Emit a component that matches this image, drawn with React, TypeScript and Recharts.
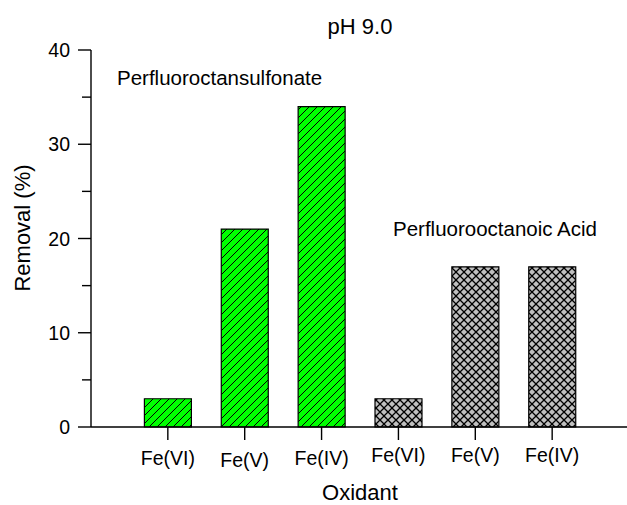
import { Bar, BarChart, Cell, XAxis, YAxis } from 'recharts'

// one slot per bar, left group PFOS, right group PFOA
const oxidants = ['Fe(VI)', 'Fe(V)', 'Fe(IV)', 'Fe(VI)', 'Fe(V)', 'Fe(IV)']
const compounds = ['PFOS', 'PFOS', 'PFOS', 'PFOA', 'PFOA', 'PFOA']
const removal = [3, 21, 34, 3, 17, 17]
const yTicks = [0, 5, 10, 15, 20, 25, 30, 35, 40]
const yLabels = [0, 10, 20, 30, 40]

const data = oxidants.map((oxidant, i) => ({
  key: i,
  oxidant,
  compound: compounds[i],
  removal: removal[i],
}))

const FONT = "'Liberation Sans', Arial, Helvetica, sans-serif"
const AXIS = { stroke: '#000', strokeWidth: 1.4 }
// small vertical stagger of the category labels as in the original
const labelShift = [0, 2, 0, -3, -3, -3]

function LeftTick({ x, y, payload }: any) {
  const major = yLabels.includes(payload.value)
  return (
    <g>
      <line x1={x - (major ? 13 : 9)} x2={x} y1={y} y2={y} stroke="#000" strokeWidth={1.4} />
      {major && (
        <text x={x - 21} y={y} dy="0.36em" textAnchor="end" fontSize={19.5} fontFamily={FONT} fill="#000">
          {payload.value}
        </text>
      )}
    </g>
  )
}

function RightTick({ x, y, payload }: any) {
  const major = yLabels.includes(payload.value)
  return <line x1={x - (major ? 13 : 9)} x2={x} y1={y} y2={y} stroke="#000" strokeWidth={1.4} />
}

function BottomTick({ x, y, payload, index }: any) {
  return (
    <g>
      <line x1={x} x2={x} y1={y} y2={y + 13} stroke="#000" strokeWidth={1.4} />
      <text x={x} y={y + 38 + (labelShift[index] ?? 0)} textAnchor="middle" fontSize={19.5} fontFamily={FONT} fill="#000">
        {oxidants[payload.value]}
      </text>
    </g>
  )
}

function TopTick({ x, y }: any) {
  return <line x1={x} x2={x} y1={y} y2={y + 13} stroke="#000" strokeWidth={1.4} />
}

export default function App() {
  return (
    <div style={{ position: 'absolute', left: 0, top: 0, width: 627, height: 505, overflow: 'hidden', background: '#fff' }}>
      <BarChart width={640} height={505} data={data} margin={{ top: 50, right: 0, bottom: 0, left: 0 }}>
        <defs>
          <pattern id="hatch" patternUnits="userSpaceOnUse" width={8} height={8}>
            <rect width={8} height={8} fill="#00ff00" />
            <path d="M-2,2 L2,-2 M0,8 L8,0 M6,10 L10,6" stroke="#000" strokeWidth={1} />
          </pattern>
          <pattern id="cross" patternUnits="userSpaceOnUse" width={8} height={8}>
            <rect width={8} height={8} fill="#c0c0c0" />
            <path d="M0,0 L8,8 M8,0 L0,8" stroke="#000" strokeWidth={1.3} />
          </pattern>
        </defs>
        <XAxis
          dataKey="key"
          type="category"
          height={78}
          padding={{ left: 38.4, right: 38.4 }}
          axisLine={AXIS}
          tickLine={false}
          tickSize={0}
          tickMargin={0}
          tick={<BottomTick />}
          interval={0}
        />
        <XAxis
          xAxisId="top"
          orientation="top"
          dataKey="key"
          type="category"
          height={0}
          padding={{ left: 38.4, right: 38.4 }}
          axisLine={AXIS}
          tickLine={false}
          tickSize={0}
          tickMargin={0}
          tick={<TopTick />}
          interval={0}
        />
        <YAxis
          width={91}
          domain={[0, 40]}
          ticks={yTicks}
          interval={0}
          axisLine={AXIS}
          tickLine={false}
          tickSize={0}
          tickMargin={0}
          tick={<LeftTick />}
        />
        <YAxis
          yAxisId="right"
          orientation="right"
          width={11}
          domain={[0, 40]}
          ticks={yTicks}
          interval={0}
          axisLine={AXIS}
          tickLine={false}
          tickSize={0}
          tickMargin={0}
          tick={<RightTick />}
        />
        <Bar dataKey="removal" barSize={47} stroke="#000" strokeWidth={1.2} isAnimationActive={false}>
          {data.map((d) => (
            <Cell key={d.key} fill={d.compound === 'PFOS' ? 'url(#hatch)' : 'url(#cross)'} />
          ))}
        </Bar>
        <text x={360} y={34} textAnchor="middle" fontSize={22} fontFamily={FONT} fill="#000">
          pH 9.0
        </text>
        <text x={117} y={85} fontSize={20.5} fontFamily={FONT} fill="#000">
          Perfluoroctansulfonate
        </text>
        <text x={393} y={236} fontSize={20.5} fontFamily={FONT} fill="#000">
          Perfluorooctanoic Acid
        </text>
        <text x={360} y={500} textAnchor="middle" fontSize={22} fontFamily={FONT} fill="#000">
          Oxidant
        </text>
        <text
          x={22}
          y={228}
          dy="0.36em"
          textAnchor="middle"
          fontSize={22}
          fontFamily={FONT}
          fill="#000"
          transform="rotate(-90 22 228)"
        >
          Removal (%)
        </text>
      </BarChart>
    </div>
  )
}
